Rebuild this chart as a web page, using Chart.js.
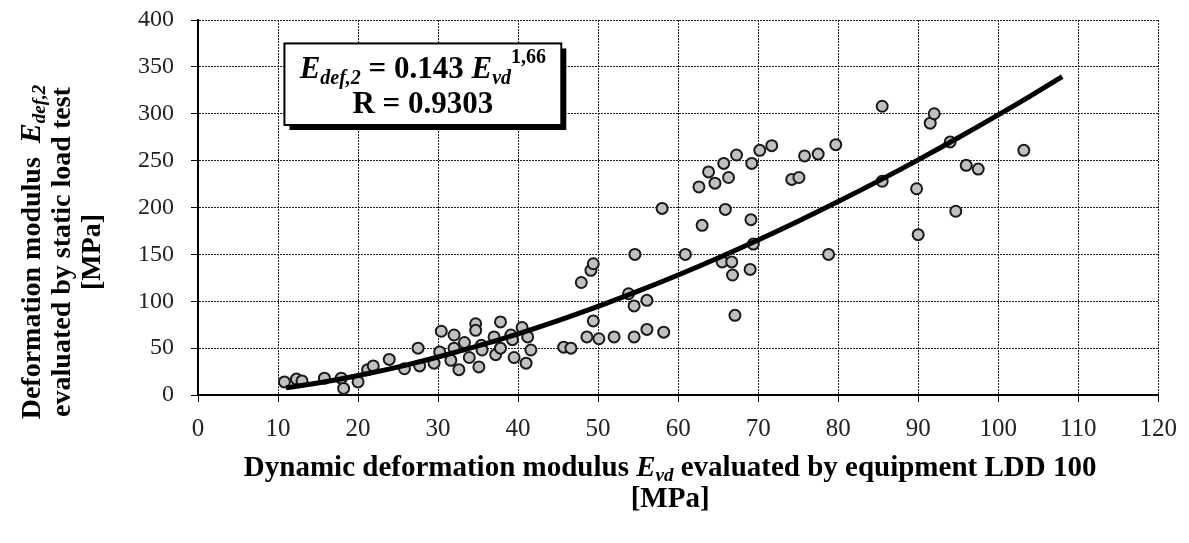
<!DOCTYPE html>
<html>
<head>
<meta charset="utf-8">
<script src="https://cdn.jsdelivr.net/npm/chart.js@4.4.1/dist/chart.umd.min.js"></script>
<style>
html, body { margin: 0; padding: 0; background: #fff; }
</style>
</head>
<body>
<canvas id="chart" width="1189" height="543"></canvas>
<script>
// dynamic modulus Evd (LDD 100) vs static Edef,2, both in MPa
var evd = [10.8, 12.3, 13.0, 15.8, 17.9, 18.2, 20.0, 21.2, 21.9, 23.9,
    25.8, 27.5, 27.7, 29.5, 30.4, 30.2, 32.0, 32.0, 31.6, 32.6,
    33.3, 33.9, 34.7, 34.7, 35.1, 35.4, 35.5, 37.0, 37.2, 37.8,
    37.8, 39.1, 39.3, 39.5, 40.5, 41.2, 41.0, 41.6, 45.7, 46.6,
    47.9, 49.1, 49.4, 49.4, 48.6, 50.1, 52.0, 54.5, 56.1, 58.2,
    53.8, 54.5, 56.1, 54.6, 58.0, 60.9, 62.6, 63.0, 63.8, 64.6,
    65.7, 66.3, 65.9, 65.5, 66.7, 66.8, 67.1, 67.3, 69.2, 69.1,
    69.0, 69.4, 70.2, 71.7, 74.2, 75.1, 75.8, 77.5, 78.8, 79.7,
    85.5, 85.5, 89.8, 90.0, 91.5, 92.0, 94.0, 94.7, 96.0, 97.5,
    103.2];
var edef = [14, 17, 15, 18, 18, 7, 14, 27, 31, 38,
    28, 50, 31, 34, 68, 46, 64, 50, 37, 27,
    56, 40, 76, 69, 30, 53, 48, 62, 43, 78,
    50, 64, 59, 40, 72, 62, 34, 48, 51, 50,
    120, 133, 140, 79, 62, 60, 62, 62, 70, 67,
    108, 95, 101, 150, 199, 150, 222, 181, 238, 226,
    247, 232, 198, 142, 142, 128, 85, 256, 247, 187,
    134, 161, 261, 266, 230, 232, 255, 257, 150, 267,
    308, 228, 220, 171, 290, 300, 270, 196, 245, 241,
    261];

// power regression printed in the box: Edef,2 = 0.143 Evd^1.66, R = 0.9303
var fitA = 0.143;
var fitB = 1.66;
var fitR = '0.9303';
var fitX = [11, 14, 18, 22, 26, 30, 35, 40, 45, 50, 55, 60, 65, 70, 75, 80, 85, 90, 95, 100, 104, 108];

var xMin = 0, xMax = 120, xStep = 10;
var yMin = 0, yMax = 400, yStep = 50;

var serif = '"Liberation Serif", "Times New Roman", serif';

var points = evd.map(function(v, i) {
    return {x: v, y: edef[i]};
});
var trend = fitX.map(function(v) {
    return {x: v, y: fitA * Math.pow(v, fitB)};
});

//按片段绘制文字（支持上下标）
function runsWidth(ctx, runs) {
    var w = 0;
    runs.forEach(function(r) {
        ctx.font = r.font;
        w += ctx.measureText(r.t).width;
    });
    return w;
}

function drawRuns(ctx, runs, cx, y) {
    var x = cx - runsWidth(ctx, runs) / 2;
    runs.forEach(function(r) {
        ctx.font = r.font;
        ctx.fillText(r.t, x, y + (r.dy || 0));
        x += ctx.measureText(r.t).width;
    });
}

var titlesPlugin = {
    id: 'titles',
    afterDraw: function(chart) {
        var ctx = chart.ctx;
        var xs = chart.scales.x, ys = chart.scales.y;
        var area = chart.chartArea;
        ctx.save();
        ctx.fillStyle = '#000';
        ctx.textBaseline = 'alphabetic';

        // 公式框
        var bx1 = xs.getPixelForValue(10.8), bx2 = xs.getPixelForValue(45.4);
        var by1 = ys.getPixelForValue(375), by2 = ys.getPixelForValue(288);
        ctx.fillStyle = '#000';
        ctx.fillRect(bx1 + 5, by1 + 5, bx2 - bx1, by2 - by1);
        ctx.fillStyle = '#fff';
        ctx.fillRect(bx1, by1, bx2 - bx1, by2 - by1);
        ctx.lineWidth = 2;
        ctx.strokeStyle = '#000';
        ctx.strokeRect(bx1, by1, bx2 - bx1, by2 - by1);
        ctx.fillStyle = '#000';
        var bc = (bx1 + bx2) / 2;
        drawRuns(ctx, [
            {t: 'E', font: 'italic bold 31px ' + serif},
            {t: 'def,2', font: 'italic bold 20px ' + serif, dy: 6},
            {t: ' = ' + fitA + ' ', font: 'bold 31px ' + serif},
            {t: 'E', font: 'italic bold 31px ' + serif},
            {t: 'vd', font: 'italic bold 20px ' + serif, dy: 6},
            {t: String(fitB).replace('.', ','), font: 'bold 20px ' + serif, dy: -15}
        ], bc, by1 + 35);
        drawRuns(ctx, [
            {t: 'R = ' + fitR, font: 'bold 31px ' + serif}
        ], bc, by1 + 70);

        // x轴标题
        var xc = (area.left + area.right) / 2 - 8;
        drawRuns(ctx, [
            {t: 'Dynamic deformation modulus ', font: 'bold 29px ' + serif},
            {t: 'E', font: 'italic bold 29px ' + serif},
            {t: 'vd', font: 'italic bold 19px ' + serif, dy: 5},
            {t: ' evaluated by equipment LDD 100', font: 'bold 29px ' + serif}
        ], xc, 476);
        drawRuns(ctx, [
            {t: '[MPa]', font: 'bold 29px ' + serif}
        ], xc, 507);

        // y轴标题（旋转）
        ctx.translate(0, 252);
        ctx.rotate(-Math.PI / 2);
        drawRuns(ctx, [
            {t: 'Deformation modulus  ', font: 'bold 28px ' + serif},
            {t: 'E', font: 'italic bold 30px ' + serif},
            {t: 'def,2', font: 'italic bold 19px ' + serif, dy: 5}
        ], 0, 40);
        drawRuns(ctx, [
            {t: 'evaluated by static load test', font: 'bold 28px ' + serif}
        ], 0, 70);
        drawRuns(ctx, [
            {t: '[MPa]', font: 'bold 28px ' + serif}
        ], 0, 100);
        ctx.restore();
    }
};

new Chart(document.getElementById('chart'), {
    type: 'scatter',
    data: {
        datasets: [
            {
                type: 'line',
                data: trend,
                borderColor: '#000',
                borderWidth: 5,
                pointRadius: 0,
                tension: 0.4,
                fill: false,
                order: 0
            },
            {
                data: points,
                pointRadius: 5.5,
                backgroundColor: '#c0c0c0',
                borderColor: '#1a1a1a',
                borderWidth: 2,
                order: 1
            }
        ]
    },
    options: {
        responsive: false,
        animation: false,
        devicePixelRatio: 1,
        layout: {
            padding: {left: 0, right: 28, top: 20, bottom: 0}
        },
        plugins: {
            legend: {display: false},
            tooltip: {enabled: false}
        },
        scales: {
            x: {
                type: 'linear',
                min: xMin,
                max: xMax,
                ticks: {
                    stepSize: xStep,
                    color: '#222',
                    font: {family: serif, size: 25},
                    padding: 12,
                    maxRotation: 0
                },
                grid: {
                    color: '#222',
                    lineWidth: 1,
                    tickLength: 7,
                    tickColor: '#000',
                    tickBorderDash: []
                },
                border: {color: '#000', width: 2, dash: [2, 1]},
                afterFit: function(s) { s.height = 148; }
            },
            y: {
                min: yMin,
                max: yMax,
                ticks: {
                    stepSize: yStep,
                    color: '#222',
                    font: {family: serif, size: 24},
                    padding: 17
                },
                grid: {
                    color: '#222',
                    lineWidth: 1,
                    tickLength: 7,
                    tickColor: '#000',
                    tickBorderDash: []
                },
                border: {color: '#000', width: 2, dash: [2, 1]},
                afterFit: function(s) {
                    s.width = 198;
                    // 标签外边距不要把绘图区往下挤
                    s.paddingTop = 12;
                    s.paddingBottom = 12;
                }
            }
        }
    },
    plugins: [titlesPlugin]
});
</script>
</body>
</html>
